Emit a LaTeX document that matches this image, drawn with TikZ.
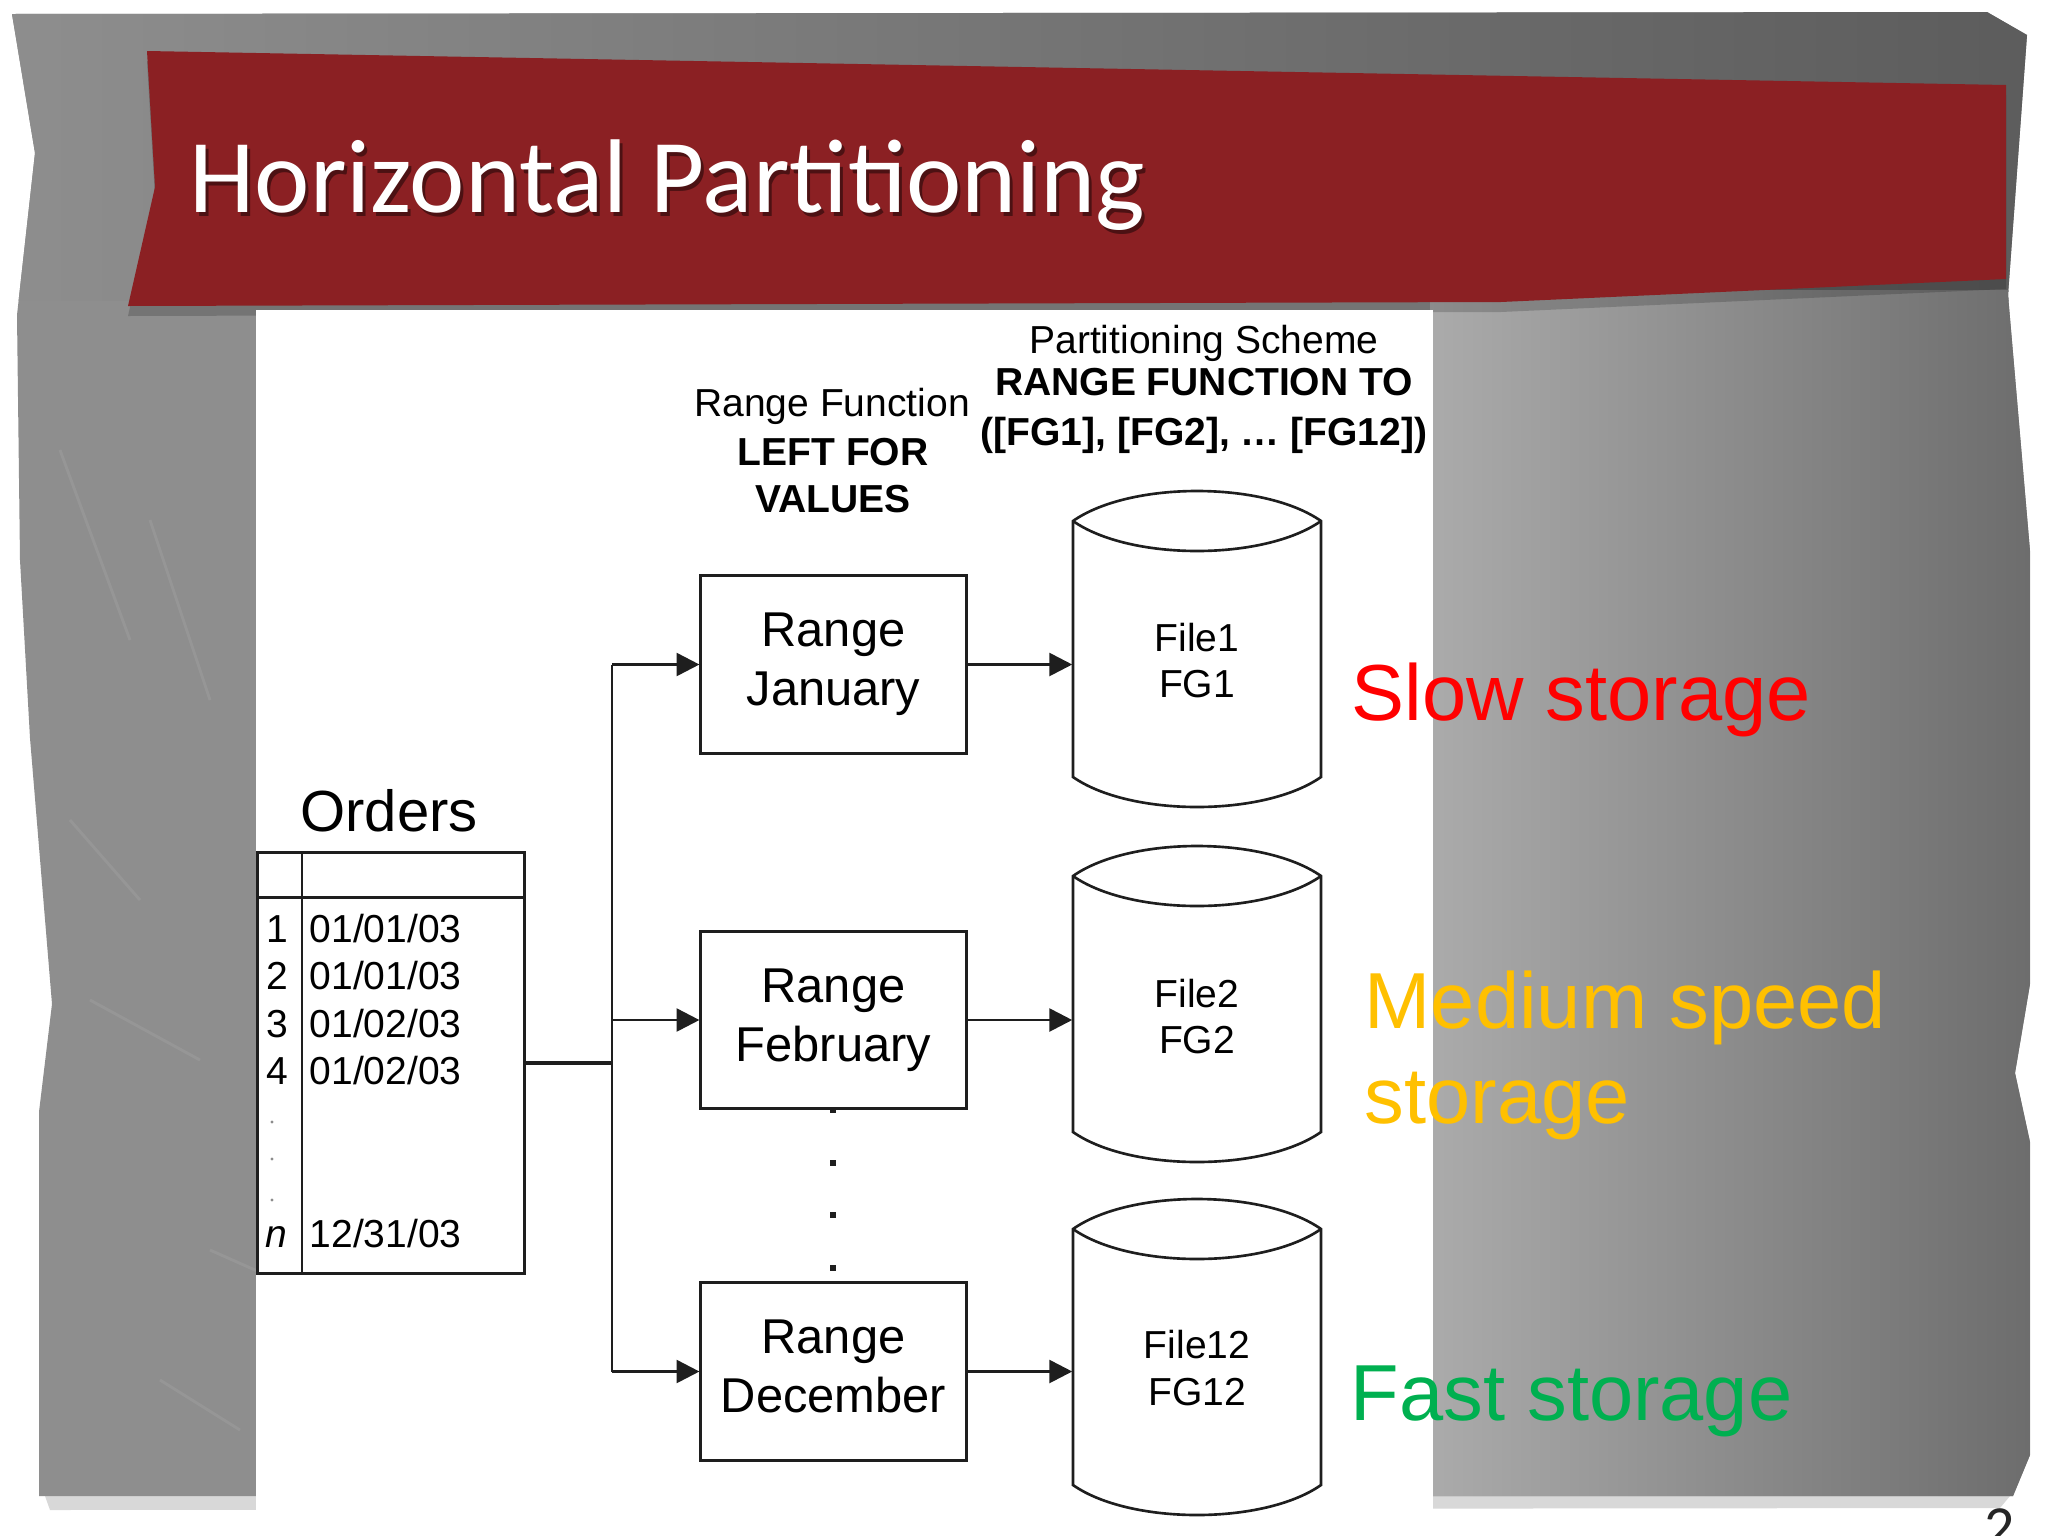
\documentclass[tikz,border=0pt]{standalone}
\usepackage{fontspec}
\setmainfont{Liberation Sans}
\newfontfamily\titlefont{Carlito}
\usetikzlibrary{arrows.meta}
\definecolor{bannerred}{HTML}{8B2023}
\definecolor{slowred}{HTML}{FF0000}
\definecolor{medorange}{HTML}{FFC000}
\definecolor{fastgreen}{HTML}{00B050}
\definecolor{panelgray}{HTML}{8E8E8E}
\definecolor{lineink}{HTML}{1E1E1E}
\begin{document}
\begin{tikzpicture}[x=0.01cm,y=-0.01cm,
  conn/.style={line width=0.8pt, draw=lineink},
  arr/.style={conn, -{Triangle[length=6.5pt,width=6.5pt]}},
  rangebox/.style={draw=lineink, line width=0.85pt, minimum width=2.65cm, minimum height=1.77cm,
     inner sep=0pt, align=center, font=\fontsize{13.9pt}{16.8pt}\selectfont},
  cylbody/.style={minimum width=2.48cm, minimum height=2.56cm, inner sep=0pt},
  cyltext/.style={inner sep=0pt, align=center, font=\fontsize{11.1pt}{13.1pt}\selectfont},
  cylline/.style={draw=lineink, line width=0.75pt, fill=white},
  hdr/.style={inner sep=0pt, anchor=base, font=\fontsize{11.1pt}{13.4pt}\selectfont},
  hdrb/.style={hdr, font=\fontsize{11.1pt}{13.4pt}\selectfont\bfseries},
  cell/.style={inner sep=0pt, anchor=base west, font=\fontsize{11.1pt}{13.4pt}\selectfont},
  numcell/.style={inner sep=0pt, anchor=base, font=\fontsize{11.1pt}{13.4pt}\selectfont},
  storagelbl/.style={inner sep=0pt, anchor=base west, font=\fontsize{22.6pt}{27pt}\selectfont},
  dotmark/.style={fill=lineink}
]
\useasboundingbox (0,0) rectangle (2048,1536);
\clip (0,0) rectangle (2048,1536);
\fill[white] (0,0) rectangle (2048,1536);

% soft shadow under the slide panel
\fill[black!25, opacity=0.6] (45,1496) -- (2010,1496) -- (2000,1508) -- (50,1510) -- cycle;

% slide panel
\begin{scope}
\clip (12,14) -- (1987,12) -- (2027,35) -- (2008,295) -- (2030,551) -- (2030,984)
  -- (2015,1073) -- (2030,1142) -- (2030,1455) -- (2013,1496) -- (39,1496)
  -- (39,1112) -- (52,1004) -- (30,738) -- (20,560) -- (17,315) -- (35,153) -- cycle;
\fill[panelgray] (0,0) rectangle (2048,1536);
\shade[left color=panelgray, right color=black!64] (0,0) rectangle (2048,300);
\shade[left color=black!33, right color=black!58] (1430,290) rectangle (2048,1500);
\foreach \a/\b/\c/\d in {60/450/130/640, 150/520/210/700, 330/560/400/760, 90/1000/200/1060,
   210/1250/300/1290, 160/1380/240/1430, 400/720/470/860, 70/820/140/900}
  \draw[white, opacity=0.08, line width=0.8pt] (\a,\b) -- (\c,\d);
\end{scope}

% banner shadow and banner
\fill[black, opacity=0.18] (147,61) -- (2006,95) -- (2006,289) -- (1501,312) -- (128,316) -- (155,197) -- cycle;
\fill[bannerred] (147,51) -- (2006,85) -- (2006,279) -- (1501,302) -- (128,306) -- (155,187) -- cycle;
\node[anchor=base west, inner sep=0pt, text=black, opacity=0.45,
  font=\titlefont\fontsize{29.8pt}{31pt}\selectfont] (titleshadow) at (192,216) {Horizontal Partitioning};
\node[anchor=base west, inner sep=0pt, text=white,
  font=\titlefont\fontsize{29.8pt}{31pt}\selectfont] (title) at (189,212) {Horizontal Partitioning};

% white diagram area
\fill[white] (256,310) rectangle (1433,1536);

% header texts
\node[hdr] (schemeA) at (1204,353) {Partitioning Scheme};
\node[hdrb] (schemeB) at (1204,395) {RANGE FUNCTION TO};
\node[hdrb] (schemeC) at (1204,445) {([FG1], [FG2], … [FG12])};
\node[hdr] (funcA) at (832,416) {Range Function};
\node[hdrb] (funcB) at (833,465) {LEFT FOR};
\node[hdrb] (funcC) at (833,512) {VALUES};

% Orders table
\node[inner sep=0pt, anchor=base, font=\fontsize{16.5pt}{18pt}\selectfont] (orderslbl) at (389,831) {Orders};
\node[draw=lineink, line width=0.85pt, minimum width=2.66cm, minimum height=4.20cm, inner sep=0pt] (orders) at (391,1063) {};
\draw[lineink, line width=0.85pt] (258,897) -- (524,897);
\draw[lineink, line width=0.85pt] (302,853) -- (302,1273);
\foreach \n/\d/\y in {1/01\slash 01\slash 03/942, 2/01\slash 01\slash 03/989, 3/01\slash 02\slash 03/1037, 4/01\slash 02\slash 03/1084}{
  \node[numcell] at (277,\y) {\n};
  \node[cell] at (309,\y) {\d};
}
\foreach \y in {1122,1159,1200} \fill[black!45] (272,\y) circle (1.6);
\node[numcell] (nlbl) at (276,1247) {\itshape n};
\node[cell] (lastdate) at (309,1247) {12/31/03};

% range boxes
\node[rangebox] (jan) at (833.5,664.5) {Range\\January};
\node[rangebox] (feb) at (833.5,1020) {Range\\February};
\node[rangebox] (dec) at (833.5,1371.5) {Range\\December\vphantom{y}};

% ellipsis dots
\foreach \y in {1110,1163,1215,1268} \fill[dotmark] (830,\y-3) rectangle (836,\y+3);

% trunk
\coordinate (trunkin) at (612,1063);
\coordinate (tjan) at (612,664.5);
\coordinate (tfeb) at (612,1020);
\coordinate (tdec) at (612,1371.5);
\draw[lineink, line width=1.2pt] (orders.east |- trunkin) -- (trunkin);
\draw[conn] (tjan) -- (tdec);
\draw[arr] (tjan) -- (jan.west);
\draw[arr] (tfeb) -- (feb.west);
\draw[arr] (tdec) -- (dec.west);

% cylinders
\newcommand\drawcyl[2]{%
  \draw[cylline] (1073,#1) .. controls (1130,#1-40) and (1264,#1-40) .. (1321,#1)
    -- (1321,#2) .. controls (1264,#2+40) and (1130,#2+40) .. (1073,#2) -- cycle;
  \draw[cylline, fill=none] (1073,#1) .. controls (1130,#1+40) and (1264,#1+40) .. (1321,#1);
}
\drawcyl{521}{777}
\drawcyl{876}{1132}
\drawcyl{1229}{1485}
\node[cylbody] (c1) at (1197,649) {};
\node[cylbody] (c2) at (1197,1004) {};
\node[cylbody] (c3) at (1197,1357) {};
\node[cyltext] (c1t) at (1197,661) {File1\\FG1};
\node[cyltext] (c2t) at (1197,1017) {File2\\FG2};
\node[cyltext] (c3t) at (1197,1368) {File12\\FG12};
\draw[arr] (jan.east) -- (jan.east -| c1.west);
\draw[arr] (feb.east) -- (feb.east -| c2.west);
\draw[arr] (dec.east) -- (dec.east -| c3.west);

% storage labels
\node[storagelbl, text=slowred] (slow) at (1351,720) {Slow storage};
\node[storagelbl, text=medorange] (medium) at (1364,1028) {Medium speed};
\node[storagelbl, text=medorange] (medium2) at (1364,1123) {storage};
\node[storagelbl, text=fastgreen] (fast) at (1350,1420) {Fast storage};

% page number (cut by the lower edge, as in the slide)
\node[anchor=north west, inner sep=0pt, text=black!85, font=\titlefont\fontsize{17pt}{18pt}\selectfont] (pagenum) at (1984,1508) {2};
\end{tikzpicture}
\end{document}
